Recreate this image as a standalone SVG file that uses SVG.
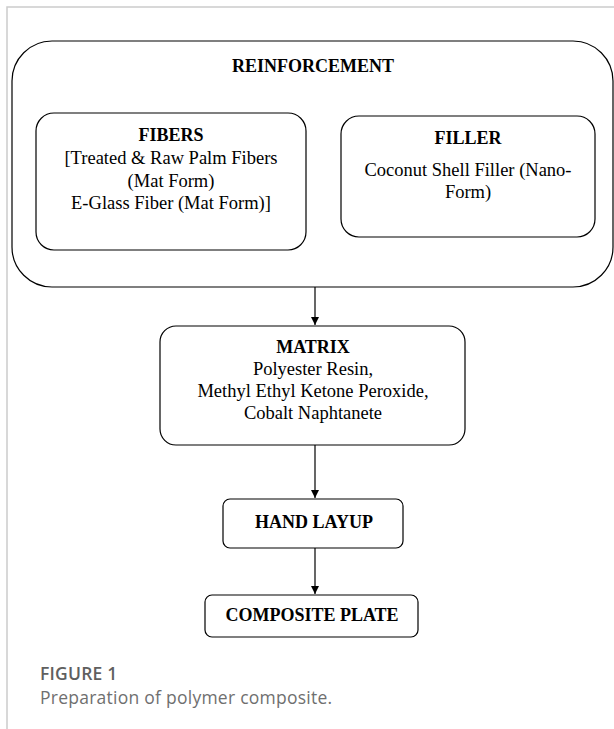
<svg xmlns="http://www.w3.org/2000/svg" width="614" height="729" viewBox="0 0 614 729">
<style>
.box{fill:none;stroke:#000;stroke-width:1.2}
.t{font-family:"Liberation Serif","Times New Roman",serif;font-size:18.5px;fill:#000;text-anchor:middle}
.b{font-weight:bold;font-size:18px}
.cap{font-family:"Open Sans","Noto Sans",sans-serif;font-size:17.5px}
.conn{stroke:#000;stroke-width:1.2;fill:none}
</style>
<defs>
<marker id="ah" viewBox="0 0 10 10" refX="10" refY="5" markerWidth="8" markerHeight="8" markerUnits="userSpaceOnUse" orient="auto">
<path d="M0,0 L10,5 L0,10 z" fill="#000"/>
</marker>
</defs>
<rect width="614" height="729" fill="#fff"/>
<path d="M7,729 L7,7 L614,7" fill="none" stroke="#ccc" stroke-width="1.5"/>
<g id="reinforcement">
<rect class="box" x="12" y="41" width="601" height="246" rx="40"/>
<text class="t b" x="313" y="72">REINFORCEMENT</text>
</g>
<g id="fibers">
<rect class="box" x="36" y="113" width="270" height="137" rx="18"/>
<text class="t b" x="171" y="141">FIBERS</text>
<text class="t" x="171" y="164">[Treated &amp; Raw Palm Fibers</text>
<text class="t" x="171" y="187">(Mat Form)</text>
<text class="t" x="171" y="209">E-Glass Fiber (Mat Form)]</text>
</g>
<g id="filler">
<rect class="box" x="341" y="116" width="254" height="121" rx="18"/>
<text class="t b" x="468" y="144">FILLER</text>
<text class="t" x="468" y="176">Coconut Shell Filler (Nano-</text>
<text class="t" x="468" y="198">Form)</text>
</g>
<g id="matrix">
<rect class="box" x="160" y="326" width="305" height="119" rx="16"/>
<text class="t b" x="313" y="353">MATRIX</text>
<text class="t" x="313" y="375">Polyester Resin,</text>
<text class="t" x="313" y="397">Methyl Ethyl Ketone Peroxide,</text>
<text class="t" x="313" y="419">Cobalt Naphtanete</text>
</g>
<g id="handlayup">
<rect class="box" x="223" y="499" width="180" height="49" rx="7"/>
<text class="t b" x="314" y="528">HAND LAYUP</text>
</g>
<g id="composite">
<rect class="box" x="205" y="595" width="213" height="42" rx="7"/>
<text class="t b" x="312" y="621">COMPOSITE PLATE</text>
</g>
<g id="connectors">
<line class="conn" x1="315" y1="287" x2="315" y2="325" marker-end="url(#ah)"/>
<line class="conn" x1="315" y1="445" x2="315" y2="498" marker-end="url(#ah)"/>
<line class="conn" x1="315" y1="548" x2="315" y2="594" marker-end="url(#ah)"/>
</g>
<g id="caption">
<text class="cap" x="40" y="680" font-weight="600" fill="#5f5f5f" letter-spacing="0.2">FIGURE 1</text>
<text class="cap" x="40" y="704" fill="#6f6f6f" letter-spacing="0.25">Preparation of polymer composite.</text>
</g>
</svg>
